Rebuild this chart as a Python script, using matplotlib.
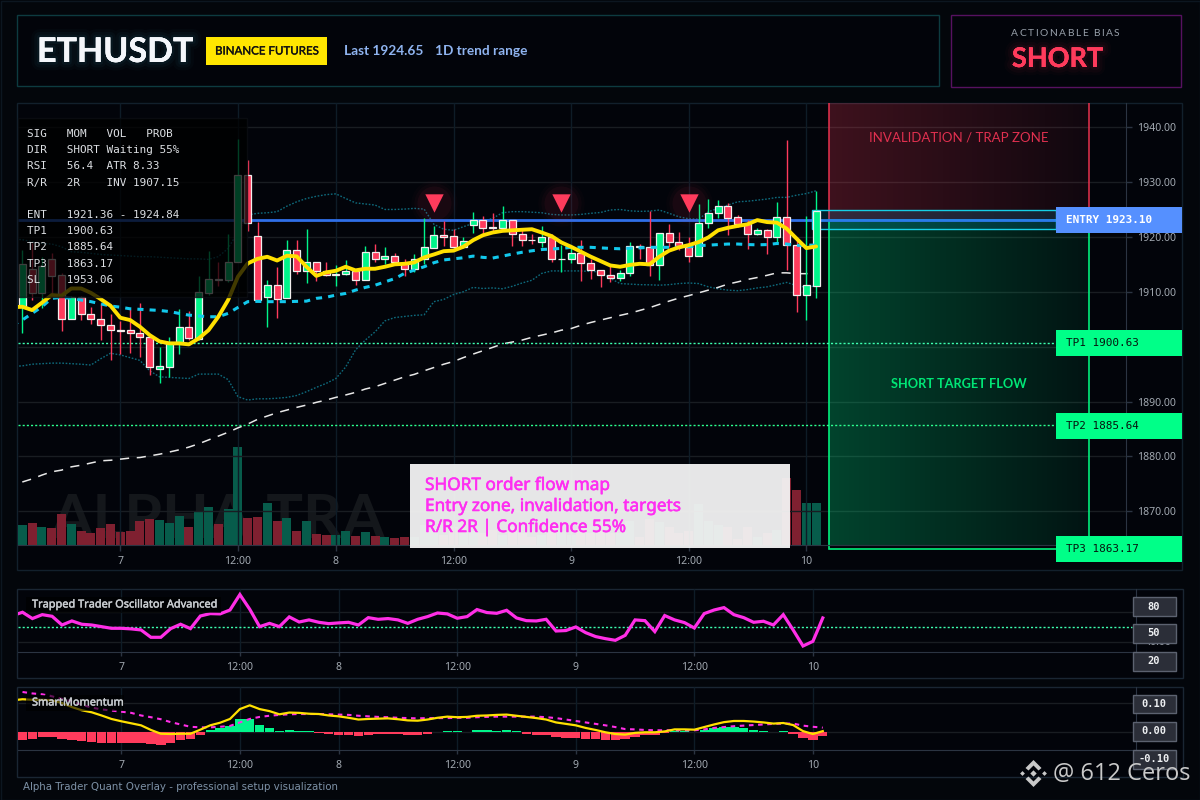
import numpy as np
import matplotlib
matplotlib.use("Agg")
import matplotlib.pyplot as plt
import matplotlib.patheffects as pe
from matplotlib.patches import Rectangle, Polygon

opens = [1907.3,1914.1,1909.8,1915.9,1913.0,1905.1,1909.0,1906.0,1905.1,1904.0,1903.0,1903.0,1902.4,1901.7,1896.0,1896.3,1900.7,1903.6,1901.4,1909.8,
         1912.4,1912.1,1915.5,1931.2,1920.2,1909.1,1911.3,1908.9,1917.7,1913.8,1915.5,1913.8,1913.0,1913.3,1913.7,1912.2,1917.2,1916.0,1916.6,1915.2,
         1914.2,1915.9,1918.0,1920.3,1920.1,1918.1,1922.2,1923.0,1921.75,1921.7,1923.0,1920.5,1919.5,1919.0,1919.9,1915.9,1915.9,1917.1,1915.2,1913.9,
         1913.0,1912.5,1913.5,1918.4,1918.2,1914.8,1920.8,1919.1,1918.2,1916.6,1922.6,1924.3,1925.7,1923.7,1922.3,1920.6,1921.2,1919.9,1923.7,1918.6,1909.5,1911.0]
closes = [1915.0,1909.8,1914.7,1912.9,1905.1,1909.0,1906.0,1905.1,1904.0,1903.1,1902.9,1902.4,1901.7,1896.3,1896.4,1900.6,1903.6,1901.6,1909.9,1912.4,
          1912.1,1915.5,1931.2,1922.5,1908.5,1911.3,1908.7,1917.7,1913.8,1915.5,1913.8,1913.0,1913.3,1913.7,1912.2,1917.2,1916.0,1916.6,1915.5,1914.2,
          1915.9,1918.1,1920.3,1920.0,1918.1,1919.2,1923.0,1921.7,1921.7,1923.0,1920.5,1919.5,1919.4,1919.9,1915.9,1915.9,1917.1,1915.3,1913.9,1913.0,
          1912.5,1913.5,1918.4,1918.2,1914.8,1920.8,1919.1,1918.1,1916.6,1922.6,1924.3,1925.7,1923.4,1922.3,1920.6,1921.2,1919.9,1923.7,1918.6,1909.5,1911.3,1924.65]
highs = [1917.6,1918.8,1916.3,1917.0,1913.5,1909.2,1909.2,1907.3,1907.9,1906.0,1904.7,1906.8,1907.9,1901.7,1900.0,1901.7,1906.8,1906.5,1912.9,1917.4,
         1915.5,1920.5,1937.8,1934.0,1922.8,1912.1,1914.6,1919.4,1919.4,1921.4,1915.5,1915.5,1914.8,1915.8,1913.7,1918.3,1918.7,1918.1,1917.0,1915.9,
         1916.9,1923.4,1922.0,1922.9,1921.5,1920.0,1924.5,1923.8,1924.4,1925.6,1923.0,1921.5,1920.5,1922.0,1920.6,1918.5,1917.9,1919.4,1915.9,1913.9,
         1914.7,1914.0,1919.0,1918.7,1924.7,1920.8,1922.4,1920.9,1920.0,1926.0,1926.9,1926.7,1926.1,1924.0,1923.1,1921.7,1921.5,1926.3,1937.6,1919.9,1923.8,1928.4]
lows = [1902.5,1908.5,1907.0,1909.1,1902.9,1905.0,1904.8,1904.1,1901.2,1897.6,1898.6,1898.9,1898.2,1894.8,1893.4,1894.5,1898.6,1901.3,1901.2,1909.4,
        1911.0,1911.8,1915.5,1921.0,1908.4,1903.6,1905.2,1908.8,1913.2,1911.6,1912.0,1912.9,1911.0,1913.0,1911.2,1912.2,1915.4,1915.0,1915.0,1912.9,
        1913.6,1915.0,1917.9,1918.3,1917.9,1917.9,1920.8,1920.5,1920.8,1921.2,1918.3,1918.3,1918.7,1918.2,1915.5,1913.6,1915.3,1912.0,1912.4,1910.9,
        1911.8,1912.0,1912.9,1916.0,1912.9,1912.1,1918.2,1917.6,1915.5,1916.6,1921.7,1923.4,1920.3,1921.8,1917.8,1920.3,1916.9,1918.7,1913.9,1906.4,1904.8,1908.9]
volumes = [19.3,21.3,17.3,16.3,30.3,20.3,13.3,11.3,16.3,20.3,12.3,13.3,23.3,25.3,24.3,21.3,28.3,17.3,32.3,37.3,
           20.3,35.3,97.3,26.3,27.3,41.3,23.3,26.3,13.3,23.3,10.3,9.3,9.3,13.3,8.3,12.3,8.3,7.3,6.3,7.3,
           8,20,15,10,18,12,14,12,15,10,18,12,8,10,22,14,10,16,12,14,12,12,24,8,
           26,22.7,18,11.7,14,41,24,20,18,6,17.7,7.7,11.7,15,67,55,41.7,41.7]

ma_fast = [1907.2,1907.27,1906.67,1908.0,1909.4,1909.28,1910.6,1910.6,1909.8,1908.67,1907.46,1905.27,1904.85,1903.63,1902.1,1900.96,1900.6,1900.6,1900.42,1901.5,
           1903.0,1905.45,1908.49,1912.74,1915.17,1916.0,1916.38,1915.7,1916.57,1916.45,1914.56,1912.9,1913.53,1913.83,1914.56,1913.9,1914.2,1914.2,1914.56,1915.0,
           1915.1,1915.35,1916.26,1916.8,1917.4,1917.5,1918.2,1919.4,1920.3,1920.8,1921.1,1921.2,1921.3,1921.4,1920.8,1920.15,1919.0,1918.2,1917.3,1916.4,
           1915.6,1914.8,1914.56,1914.9,1915.1,1915.0,1916.4,1917.5,1918.1,1918.5,1919.05,1919.9,1921.2,1921.66,1922.0,1922.3,1923.06,1922.7,1922.6,1921.5,1919.7,1917.96,1918.26]
bb_mid = [1903.9,1904.85,1906.06,1907.27,1908.8,1909.0,1908.8,1908.5,1908.2,1907.8,1907.4,1907.2,1906.9,1906.8,1906.7,1906.6,1906.4,1906.06,1905.75,1905.6,
          1905.45,1905.45,1906.06,1907.15,1908.2,1908.25,1908.2,1908.2,1908.2,1908.25,1908.3,1908.8,1909.0,1909.4,1909.7,1910.3,1910.8,1911.2,1911.8,1912.4,
          1913.35,1913.95,1914.56,1915.3,1915.8,1916.0,1916.2,1916.5,1916.27,1916.15,1916.5,1916.87,1917.2,1917.47,1917.7,1917.8,1917.9,1918.1,1918.1,1918.1,
          1918.0,1917.9,1917.84,1917.95,1918.0,1918.1,1918.1,1918.1,1918.1,1918.2,1918.4,1918.5,1918.6,1918.7,1918.7,1918.6,1918.56,1918.6,1918.8,1918.7,1918.45,1918.5,1918.5]
bb_up = [1919.6,1919.5,1919.1,1918.8,1918.7,1918.2,1917.3,1917.2,1917.0,1916.8,1916.7,1916.6,1916.5,1916.4,1916.4,1916.3,1916.2,1916.1,1916.0,1916.0,
         1915.9,1916.4,1917.9,1920.9,1924.0,1924.3,1924.4,1924.6,1925.6,1926.4,1927.0,1927.4,1927.7,1927.85,1927.0,1926.2,1926.0,1925.8,1925.0,1925.0,
         1925.07,1925.2,1925.07,1922.3,1921.4,1921.2,1921.85,1922.45,1922.76,1923.4,1924.4,1924.6,1924.6,1924.5,1924.4,1924.1,1924.0,1924.0,1924.1,1924.3,
         1924.45,1924.9,1925.0,1924.75,1924.65,1924.7,1924.9,1924.3,1923.66,1923.3,1923.24,1924.57,1925.2,1925.8,1926.4,1926.5,1926.7,1926.9,1927.2,1927.2,1927.6,1927.9,1928.4]
bb_low = [1896.4,1896.5,1896.8,1896.9,1897.0,1897.0,1896.9,1896.8,1896.65,1897.8,1898.8,1898.5,1898.0,1897.5,1895.6,1894.5,1894.4,1894.3,1894.2,1895.0,
          1895.0,1895.0,1894.0,1890.9,1890.27,1890.5,1890.5,1890.6,1890.76,1891.1,1891.8,1892.58,1893.3,1894.2,1896.3,1899.4,1901.2,1902.7,1904.7,1905.3,
          1905.5,1905.7,1905.8,1908.2,1908.6,1909.5,1910.0,1910.8,1910.6,1910.7,1910.55,1911.0,1911.6,1912.1,1913.35,1913.8,1913.8,1913.8,1913.8,1913.7,
          1913.65,1912.43,1911.5,1911.4,1911.3,1911.27,1911.2,1911.3,1911.5,1911.6,1911.5,1910.9,1910.55,1910.3,1910.2,1910.4,1910.7,1910.9,1911.3,1911.7,1911.15,1910.8,1911.1]
ma_slow = [1875.34,1875.9,1876.6,1877.2,1877.5,1878.1,1878.4,1878.8,1879.2,1879.3,1879.5,1879.7,1879.8,1880.1,1880.4,1880.8,1881.2,1881.7,1882.3,1883.0,
           1883.7,1884.4,1885.2,1885.9,1886.75,1887.36,1887.97,1888.45,1888.94,1889.36,1889.85,1890.27,1890.76,1891.2,1891.67,1892.28,1892.7,1893.3,1893.9,1894.5,
           1894.95,1895.6,1896.2,1896.8,1897.3,1898.0,1898.65,1899.26,1899.87,1900.5,1900.84,1901.2,1901.7,1902.1,1902.5,1903.0,1903.3,1903.9,1904.4,1904.84,
           1905.27,1905.7,1906.1,1906.6,1907.1,1907.7,1908.3,1908.85,1909.3,1909.8,1910.3,1910.8,1911.4,1911.8,1912.25,1912.6,1913.0,1913.45,1913.45,1913.3,1913.3,1913.4]

osc = [57.6,59.8,55.6,58.2,57.1,51.3,54.0,51.8,51.3,50.2,49.1,49.1,48.7,48.0,43.1,43.1,48.9,51.8,48.9,57.3,58.9,
       58.7,61.3,71.6,61.8,50.2,52.4,50.2,56.7,53.3,54.7,53.1,52.2,52.7,53.1,51.3,56.2,55.1,55.6,54.7,52.4,55.1,
       56.9,59.3,58.7,55.8,56.9,61.6,59.6,59.1,61.1,56.0,54.2,54.0,55.1,47.3,47.6,50.0,46.2,43.6,42.2,41.1,44.4,
       54.7,54.2,46.9,57.6,54.7,52.9,49.3,58.9,61.3,62.9,58.2,56.2,53.1,53.8,51.3,58.2,48.0,37.3,40.4,56.0]
hist = [-.026,-.023,-.016,-.016,-.023,-.026,-.030,-.033,-.037,-.037,-.037,-.037,-.037,-.040,-.044,-.037,-.026,-.023,-.009,.008,
        .015,.022,.046,.046,.025,.015,.005,.008,.005,.005,-.002,-.006,-.009,-.009,-.013,-.009,-.006,-.006,-.006,-.009,
        -.009,-.007,.001,.005,.005,.001,.008,.008,.005,.008,.005,-.006,-.009,-.009,-.016,-.020,-.020,-.023,-.023,-.026,
        -.026,-.023,-.016,-.009,-.009,-.002,.005,.005,.001,.008,.015,.018,.018,.015,.008,.005,.001,.005,-.006,-.020,-.026,-.013]
mom = [.109,.113,.111,.111,.109,.100,.086,.075,.068,.057,.045,.037,.030,.023,.007,-.006,-.007,-.006,-.006,.008,.023,
       .032,.045,.079,.092,.079,.072,.061,.067,.066,.063,.062,.057,.054,.049,.043,.045,.046,.047,.044,.040,.039,
       .043,.049,.053,.051,.052,.056,.057,.059,.060,.056,.052,.048,.043,.033,.028,.023,.014,.007,-.001,-.007,-.009,
       -.003,-.001,-.001,.002,.009,.009,.008,.017,.026,.034,.038,.038,.036,.033,.029,.031,.024,.003,-.007,.003]
signal = [.138,.133,.130,.123,.114,.105,.094,.084,.078,.074,.070,.066,.057,.051,.044,.034,.026,.018,.016,.016,
          .018,.021,.033,.045,.052,.056,.059,.061,.062,.062,.062,.061,.060,.059,.056,.054,.052,.051,.049,.048,
          .047,.048,.048,.048,.049,.049,.051,.052,.053,.053,.053,.053,.053,.051,.048,.043,.038,.033,.028,.023,
          .017,.010,.009,.007,.006,.006,.006,.006,.006,.009,.014,.017,.020,.022,.024,.026,.028,.029,.029,.022,.018,.015]

time_ticks = [10, 22, 32, 44, 56, 68, 80]
time_labels = ["7", "12:00", "8", "12:00", "9", "12:00", "10"]
price_ticks = [1940, 1930, 1920, 1910, 1900, 1890, 1880, 1870]
signal_idx = [42, 55, 68]
signal_price = 1926.15
entry, entry_hi, entry_lo = 1923.10, 1924.84, 1921.36
tp1, tp2, tp3 = 1900.63, 1885.64, 1863.17
stop = 1953.06
info_lines = ["SIG   MOM   VOL   PROB", "DIR   SHORT Waiting 55%", "RSI   56.4  ATR 8.33", "R/R   2R    INV 1907.15", "",
              "ENT   1921.36 - 1924.84", "TP1   1900.63", "TP2   1885.64", "TP3   1863.17", "SL    1953.06"]
box_lines = ["SHORT order flow map", "Entry zone, invalidation, targets", "R/R 2R | Confidence 55%"]

BG = "#03060b"; PANEL = "#02040a"; GRID_H = "#191d22"; GRID_V = "#0e1c27"; AX = "#2b3442"; TXT = "#a2a9b1"
GREEN = "#00f58a"; RED = "#ff3b5c"; YEL = "#ffe000"; SANS = "Lato"; MONO = "DejaVu Sans Mono"; TICKF = "Noto Sans"

fig = plt.figure(figsize=(12, 8), dpi=100, facecolor=BG)
def pos(x0, y0, x1, y1):
    return [x0/1200, 1-y1/800, (x1-x0)/1200, (y1-y0)/800]

bg = fig.add_axes([0, 0, 1, 1], zorder=-5)
bg.set_xlim(0, 1200); bg.set_ylim(800, 0); bg.axis("off")
def frame(a, x0, y0, x1, y1, ec, fc=PANEL, lw=1):
    a.add_patch(Rectangle((x0, y0), x1-x0, y1-y0, fc=fc, ec=ec, lw=lw))
frame(bg, 17, 15, 939, 86, "#0d3b40")
frame(bg, 951, 15, 1181, 87, "#561160")
frame(bg, 17, 103, 1182, 570, "#12202c")
frame(bg, 17, 589, 1183, 678, "#1a2633")
frame(bg, 17, 687, 1183, 777, "#1a2633")
bg.add_patch(Rectangle((0.5, 0.5), 1199, 799, fc="none", ec="#0c1620", lw=1))

n = len(closes)
xs = np.arange(n)
xext = np.arange(-1, n)
SX0, SK = 22.3, 9.8
XL, XR = 18, 1126
main_xlim = ((XL-SX0)/SK, (XR-SX0)/SK)
def px2i(px):
    return (px-SX0)/SK
ylim_main = (1863.95, 1944.4)
up = np.array(closes) >= np.array(opens)

# volume axes + watermark
axv = fig.add_axes(pos(XL, 103, XR, 544.5), zorder=1)
axv.patch.set_visible(False); axv.axis("off")
axv.set_xlim(*main_xlim); axv.set_ylim(0, 441.5)
axv.text(px2i(50), 7, "ALPHA TRA", fontsize=44, family=SANS, fontweight="bold", color="#14171b", va="baseline", ha="left", zorder=0, clip_on=True)
axv.bar(xs, volumes, width=0.92, color=["#075c4b" if u else "#7f2030" for u in up], zorder=2)

# price axes
ax = fig.add_axes(pos(XL, 103, XR, 544.5), zorder=2)
ax.patch.set_visible(False)
ax.set_xlim(*main_xlim); ax.set_ylim(*ylim_main)
for s in ["top", "left"]:
    ax.spines[s].set_visible(False)
for s in ["right", "bottom"]:
    ax.spines[s].set_color(AX)
ax.yaxis.tick_right()
ax.set_yticks(price_ticks); ax.set_yticklabels([f"{p:.2f}" for p in price_ticks], fontsize=7.6, family=TICKF, color=TXT)
ax.set_xticks(time_ticks); ax.set_xticklabels(time_labels, fontsize=7.6, family=TICKF, color=TXT)
ax.tick_params(axis="both", length=4, width=1, color=AX, pad=4)
ax.hlines(price_ticks, *main_xlim, color=GRID_H, lw=1, zorder=0)
ax.vlines(time_ticks, *ylim_main, color=GRID_V, lw=1, zorder=0)

def hgrad(left, right, n=256):
    arr = np.zeros((1, n, 4))
    for c in range(4):
        arr[0, :, c] = np.linspace(left[c], right[c], n)
    return arr
zx0, zx1 = px2i(829), px2i(1088.5)
ax.imshow(hgrad((1, .24, .36, .24), (1, .24, .36, .06)), extent=(zx0, zx1, entry, ylim_main[1]), aspect="auto", zorder=1, interpolation="bilinear")
ax.imshow(hgrad((0, .95, .55, .27), (0, .95, .55, .07)), extent=(zx0, zx1, tp3, entry), aspect="auto", zorder=1, interpolation="bilinear")
ax.set_xlim(*main_xlim); ax.set_ylim(*ylim_main)
ax.vlines([zx0, zx1], entry, ylim_main[1], color="#e8324f", lw=1.1, zorder=2)
ax.hlines(entry, zx0, zx1, color="#e8324f", lw=1, zorder=2)
ax.add_patch(Rectangle((zx0, tp3), zx1-zx0, entry-tp3, fc="none", ec="#00f07c", lw=1.2, zorder=2, clip_on=False))
ax.add_patch(Rectangle((px2i(811.6), entry_lo), px2i(1056)-px2i(811.6), entry_hi-entry_lo, fc=(0, .78, 1, .14), ec="#16cfe6", lw=1, zorder=5))
ax.text(px2i(958.5), 1940-(137-127)/5.49, "INVALIDATION / TRAP ZONE", color="#e0304f", fontsize=9.5, family=SANS, ha="center", va="center", zorder=6)
ax.text(px2i(958.5), 1940-(384-127)/5.49, "SHORT TARGET FLOW", color="#00e676", fontsize=9.2, family=SANS, fontweight="bold", ha="center", va="center", zorder=6)

ax.plot(xext, bb_up, color="#0e6a7c", lw=1, ls=(0, (1.2, 1.2)), zorder=3)
ax.plot(xext, bb_low, color="#0e6a7c", lw=1, ls=(0, (1.2, 1.2)), zorder=3)
ax.plot(xs, ma_slow, color="#e8e8e8", lw=1.1, ls=(0, (6, 5)), zorder=3)
ax.hlines(entry, main_xlim[0], px2i(1056), color="#2f6fe8", lw=2, zorder=4)
ax.hlines(tp1, main_xlim[0], px2i(1056), color="#3dffb0", lw=1, ls=(0, (1.5, 1.5)), zorder=3)
ax.hlines(tp2, main_xlim[0], px2i(1056), color="#2cff8f", lw=1, ls=(0, (1.5, 1.5)), zorder=3)

ccol = [GREEN if u else RED for u in up]
ax.vlines(xs, lows, highs, colors=ccol, lw=1, zorder=6)
ax.bar(xs, np.abs(np.array(closes)-np.array(opens)), bottom=np.minimum(opens, closes), width=0.72, color=ccol, edgecolor="#f2eeee", linewidth=0.9, zorder=7)
ax.plot(xext, bb_mid, color="#12c8ec", lw=2.2, ls=(0, (2.0, 2.0)), zorder=8)
ax.plot(xext, ma_fast, color=YEL, lw=2.8, zorder=9, solid_capstyle="round")
for s_, a_ in [(560, .02), (420, .03), (300, .05)]:
    ax.scatter(signal_idx, [signal_price]*3, marker="o", s=s_*2, color=RED, alpha=a_, lw=0, zorder=9)
ax.scatter(signal_idx, [signal_price]*3, marker="v", s=175, color=RED, lw=0, zorder=10)

# indicator panels
PX0, PK = 22.5, 9.88
PR = 1136
pxlim = ((XL-PX0)/PK, (PR-PX0)/PK)
def panel(y0, y1, ylim, gridvals):
    a = fig.add_axes(pos(XL, y0, PR, y1), zorder=2)
    a.patch.set_visible(False)
    a.set_xlim(*pxlim); a.set_ylim(*ylim)
    for s in ["top", "left"]:
        a.spines[s].set_visible(False)
    for s in ["right", "bottom"]:
        a.spines[s].set_color(AX)
    a.set_yticks([])
    a.set_xticks(time_ticks); a.set_xticklabels(time_labels, fontsize=7.6, family=TICKF, color=TXT)
    a.tick_params(axis="x", length=3, width=1, color=AX, pad=4)
    a.hlines(gridvals, *pxlim, color=GRID_H, lw=1, zorder=0)
    a.vlines(time_ticks, *ylim, color=GRID_V, lw=1, zorder=0)
    return a

a1 = panel(589, 652, (33.3, 75.3), [40, 60])
a1.hlines(50, pxlim[0], (1132-PX0)/PK, color="#3dffb0", lw=1, ls=(0, (1.5, 1.5)), zorder=2)
a1.plot(xext, osc, color="#ff2ee6", lw=2.3, zorder=3, solid_joinstyle="miter")

a2 = panel(687, 750, (-0.0621, 0.1552), [0, 0.1])
a2.bar(xs, hist, width=0.95, color=[GREEN if h > 0 else RED for h in hist], zorder=2)
a2.plot(xs, signal, color="#ff2ee6", lw=1.5, ls=(0, (2.2, 2.2)), zorder=3)
a2.plot(xext, mom, color=YEL, lw=1.6, zorder=4)

# overlay
ov = fig.add_axes([0, 0, 1, 1], zorder=10)
ov.patch.set_visible(False); ov.axis("off")
ov.set_xlim(0, 1200); ov.set_ylim(800, 0)

ov.add_patch(Rectangle((18, 117.5), 228.5, 179, fc="#000000", ec="#0c0f14", alpha=0.74, lw=1))
for k, line in enumerate(info_lines):
    if line:
        ov.text(27, 134+k*16.2, line, family=MONO, fontsize=7.9, color="#dcdfe3", va="center", ha="left")

ov.add_patch(Rectangle((410, 464), 380, 84, fc="#f4f4f4", alpha=0.95, lw=0))
fat = lambda c, w: [pe.withStroke(linewidth=w, foreground=c)]
for k, line in enumerate(box_lines):
    ov.text(425, 485+k*21, line, family="Noto Sans", fontsize=12.4, color="#ff2ef2", va="center", ha="left", path_effects=fat("#ff2ef2", 0.4))

# header
glow = lambda c: [pe.withStroke(linewidth=w, foreground=c, alpha=al) for w, al in [(12, .025), (8, .035), (4, .05)]] + [pe.Normal()]
ov.text(37, 52, "ETHUSDT", family=SANS, fontweight="bold", fontsize=24.5, color="#f4f6fa", va="center", ha="left", path_effects=glow("#3fb8d8"))
ov.add_patch(Rectangle((206, 37), 121, 28, fc="#ffe600", lw=0))
ov.text(266.5, 51, "BINANCE FUTURES", family=SANS, fontsize=8.3, color="#111111", va="center", ha="center", path_effects=fat("#111111", 0.25))
ov.text(344, 51, "Last 1924.65", family=SANS, fontsize=9.8, fontweight="bold", color="#8fb4f0", va="center", ha="left")
ov.text(435, 51, "1D trend range", family=SANS, fontsize=9.8, fontweight="bold", color="#8fb4f0", va="center", ha="left")

def spaced(x0, y, s, spacing, **kw):
    r = fig.canvas.get_renderer()
    bar = ov.text(0, 0, "|", **kw)
    bw = bar.get_window_extent(r).width
    bar.remove()
    for k, ch in enumerate(s):
        probe = ov.text(0, 0, s[:k] + "|", **kw)
        w = probe.get_window_extent(r).width - bw
        probe.remove()
        ov.text(x0 + w + spacing*k, y, ch, va="center", ha="left", **kw)
spaced(1011, 34, "ACTIONABLE BIAS", 1.5, family=SANS, fontsize=7.4, color="#98a0aa")
ov.text(1057.5, 59, "SHORT", family=SANS, fontweight="bold", fontsize=19.5, color=RED, va="center", ha="center", path_effects=glow(RED))

# right price tags
def tag(y, text, fc, tc, weight="normal"):
    ov.add_patch(Rectangle((1056, y-13), 126, 26, fc=fc, lw=0))
    ov.text(1066, y, text, family=MONO, fontsize=7.9, color=tc, fontweight=weight, va="center", ha="left")
tag(220, "ENTRY 1923.10", "#5590ff", "white", "bold")
tag(343, "TP1 1900.63", "#00ff88", "#06140e")
tag(426, "TP2 1885.64", "#00ff88", "#06140e")
tag(549, "TP3 1863.17", "#00ff88", "#06140e")

# panel labels
ov.text(1158, 642.5, "40.00", fontsize=7.6, family=TICKF, color=TXT, va="center", ha="center", zorder=2)
for y, t in [(606.5, "80"), (633.5, "50"), (661.5, "20"), (704, "0.10"), (731.5, "0.00"), (759.5, "-0.10")]:
    ov.add_patch(Rectangle((1132.5, y-9.2), 43.5, 18.4, fc="#2b2e38", ec="#5c6270", lw=1, zorder=4))
    ov.text(1154, y, t, family=MONO, fontsize=7.5, color="#eef0f2", fontweight="bold", va="center", ha="center", zorder=5)
for x0, x1, y, t in [(26, 221, 605, "Trapped Trader Oscillator Advanced"), (26, 124, 703, "SmartMomentum")]:
    ov.add_patch(Rectangle((x0, y-8), x1-x0, 16, fc="#000000", alpha=0.62, lw=0))
    ov.text(32, y, t, family="Noto Sans", fontsize=7.9, color="#c8ccd0", va="center", ha="left", path_effects=fat("#c8ccd0", 0.3))
ov.text(23, 787, "Alpha Trader Quant Overlay - professional setup visualization", family="DejaVu Sans", fontsize=7.4, color="#7d91a6", va="center", ha="left")

# corner mark
wm = "#c9c9c9"
cx, cy = 1033.5, 773.5
def dia(x, y, r, **kw):
    ov.add_patch(Polygon([(x, y-r), (x+r, y), (x, y+r), (x-r, y)], closed=True, fc=wm, lw=0, zorder=6, **kw))
dia(cx, cy, 3.2); dia(cx-11, cy, 2.4); dia(cx+11, cy, 2.4)
ov.add_patch(Polygon([(cx, cy-13.5), (cx+8, cy-5.5), (cx+5, cy-3), (cx, cy-8), (cx-5, cy-3), (cx-8, cy-5.5)], closed=True, fc=wm, lw=0, zorder=6))
ov.add_patch(Polygon([(cx, cy+13.5), (cx+8, cy+5.5), (cx+5, cy+3), (cx, cy+8), (cx-5, cy+3), (cx-8, cy+5.5)], closed=True, fc=wm, lw=0, zorder=6))
ov.text(1053, 774, "@ 612 Ceros", family="Open Sans", fontsize=17, color=wm, va="center", ha="left", zorder=7)

fig.savefig("out.png", dpi=100, facecolor=BG)
